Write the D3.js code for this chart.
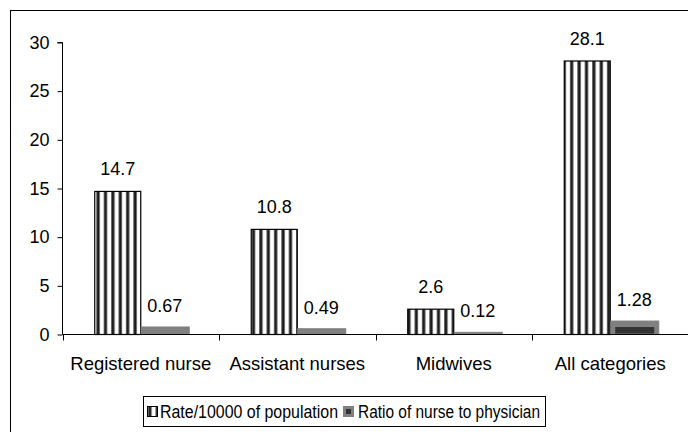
<!DOCTYPE html>
<html><head><meta charset="utf-8">
<script src="https://cdn.jsdelivr.net/npm/d3@7"></script>
<style>body{margin:0;background:#fff}svg{display:block}text{font-family:"Liberation Sans",Arial,sans-serif;fill:#000}</style>
</head><body><svg id="c" width="688" height="432"></svg>
<script>
const categories = ["Registered nurse","Assistant nurses","Midwives","All categories"];
const rateValues = [14.7,10.8,2.6,28.1];
const ratioValues = [0.67,0.49,0.12,1.28];
const seriesNames = ["Rate/10000 of population","Ratio of nurse to physician"];
const yTicks = [0,5,10,15,20,25,30];

const svg = d3.select("#c");
const defs = svg.append("defs");
const pat = defs.append("pattern").attr("id","stripes").attr("patternUnits","userSpaceOnUse")
  .attr("width",7.4).attr("height",10);
pat.append("rect").attr("width",7.4).attr("height",10).attr("fill","#fff");
pat.append("rect").attr("x",0).attr("width",3.8).attr("height",10).attr("fill","#6a6a6a");
pat.append("rect").attr("x",1).attr("width",1.8).attr("height",10).attr("fill","#1a1a1a");

// outer frame
svg.append("rect").attr("x",10.5).attr("y",10.5).attr("width",700).attr("height",440)
  .attr("fill","none").attr("stroke","#000").attr("stroke-width",1);

const y = d3.scaleLinear().domain([0,30]).range([334.5,42.5]);
const x = d3.scaleBand().domain(categories).range([62.5,688.5]).padding(0);
const bw = 46;
const off = (x.bandwidth()-2*bw)/2;

// y axis
const yAxis = svg.append("g").attr("transform","translate(62.5,0)")
  .call(d3.axisLeft(y).tickValues(yTicks).tickSize(5).tickPadding(8).tickFormat(d3.format("d")));
yAxis.select(".domain").attr("d",`M-5,${y(30)}H0V${y(0)}`);
yAxis.selectAll("text").style("font-size","18px").attr("font-family",null);
yAxis.selectAll("line,path").attr("stroke","#000");

// bars
const g = svg.append("g");
g.selectAll(".rate").data(categories).join("rect")
  .attr("x",d=>x(d)+off).attr("width",bw)
  .attr("y",(d,i)=>y(rateValues[i])).attr("height",(d,i)=>y(0)-y(rateValues[i]))
  .attr("fill","url(#stripes)").attr("stroke","#000").attr("stroke-width",1.2);
g.selectAll(".ratio").data(categories).join("rect")
  .attr("x",d=>x(d)+off+bw+0.5).attr("width",bw+2)
  .attr("y",(d,i)=>y(ratioValues[i])-1).attr("height",(d,i)=>y(0)-y(ratioValues[i])+1)
  .attr("fill","#808080").attr("stroke","#808080").attr("stroke-width",1);
// dark highlight inside last ratio bar (as in reference)
const last = categories.length-1;
g.append("rect").attr("x",x(categories[last])+off+bw+5).attr("width",bw-7)
  .attr("y",y(ratioValues[last])+5).attr("height",6.5).attr("fill","#333");

// x axis
const xa = svg.append("g");
xa.append("line").attr("x1",62.5).attr("x2",688.5).attr("y1",y(0)).attr("y2",y(0)).attr("stroke","#000");
const bounds = categories.map(d=>x(d)).concat([x(categories[last])+x.bandwidth()]);
xa.selectAll(".tk").data(bounds).join("line")
  .attr("x1",d=>Math.round(d)+0.5).attr("x2",d=>Math.round(d)+0.5)
  .attr("y1",y(0)).attr("y2",y(0)+6).attr("stroke","#000");
xa.selectAll(".lb").data(categories).join("text")
  .attr("x",d=>x(d)+x.bandwidth()/2).attr("y",370).attr("text-anchor","middle")
  .style("font-size","18.5px").text(d=>d);

// value labels
g.selectAll(".rl").data(categories).join("text")
  .attr("x",d=>x(d)+off+bw/2).attr("y",(d,i)=>y(rateValues[i])-16)
  .attr("text-anchor","middle").style("font-size","18px").text((d,i)=>rateValues[i]);
g.selectAll(".ql").data(categories).join("text")
  .attr("x",d=>x(d)+off+bw*1.5+1).attr("y",(d,i)=>y(ratioValues[i])-16)
  .attr("text-anchor","middle").style("font-size","18px").text((d,i)=>ratioValues[i].toFixed(2));

// legend
const lg = svg.append("g");
lg.append("rect").attr("x",143.5).attr("y",396.5).attr("width",402).attr("height",30)
  .attr("fill","#fff").attr("stroke","#000");
lg.append("rect").attr("x",147.5).attr("y",406.5).attr("width",10).attr("height",10)
  .attr("fill","url(#stripes)").attr("stroke","#000");
lg.append("text").attr("x",160).attr("y",418).style("font-size","17.5px")
  .attr("textLength",178).attr("lengthAdjust","spacingAndGlyphs").text(seriesNames[0]);
lg.append("rect").attr("x",343).attr("y",406).attr("width",11).attr("height",11).attr("fill","#808080");
lg.append("rect").attr("x",346).attr("y",409).attr("width",5).attr("height",5).attr("fill","#333");
lg.append("text").attr("x",358).attr("y",418).style("font-size","17.5px")
  .attr("textLength",182).attr("lengthAdjust","spacingAndGlyphs").text(seriesNames[1]);
</script></body></html>
